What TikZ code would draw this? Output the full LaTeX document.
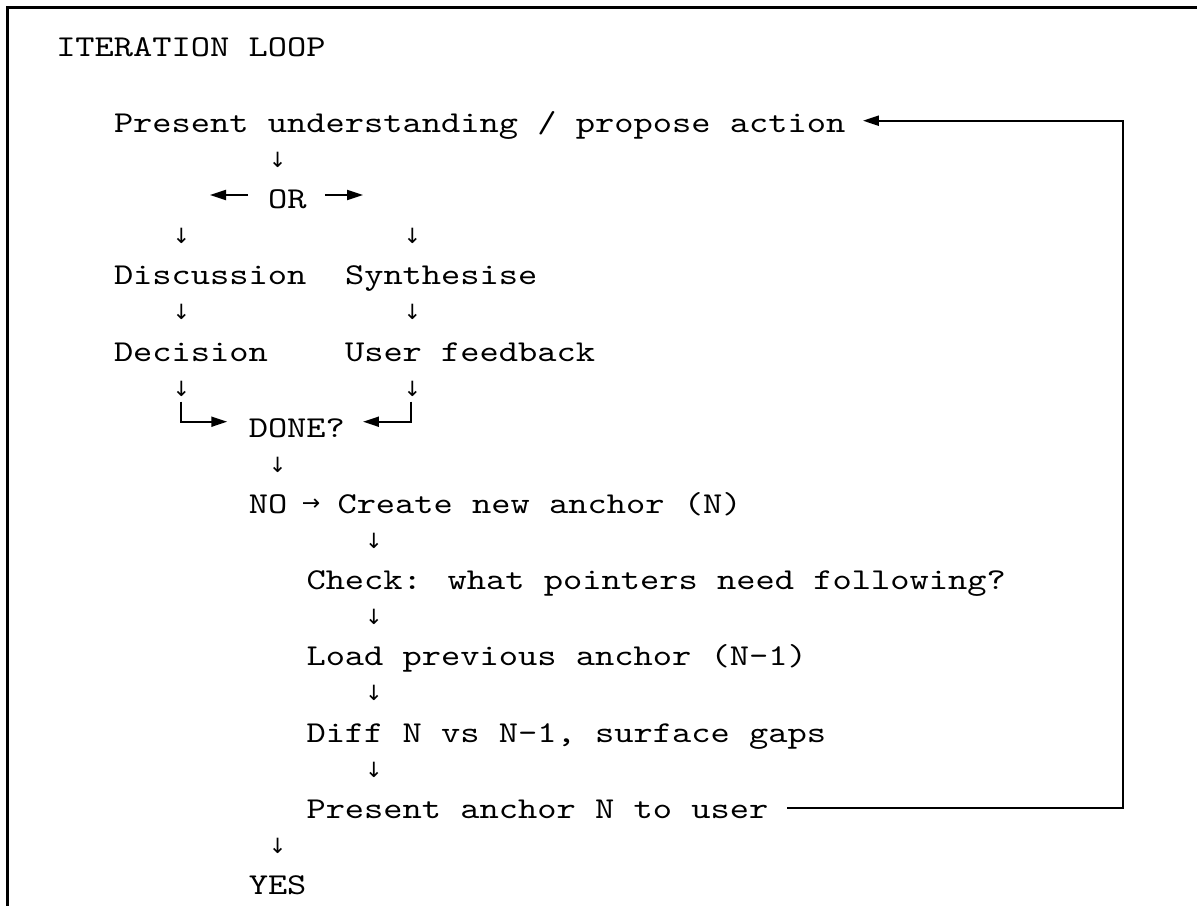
\documentclass[tikz,border=0pt]{standalone}
\usepackage{fontspec}
\usetikzlibrary{arrows.meta,calc}
\newfontfamily\codefont{lmmono10-regular.otf}[FakeStretch=1.21]
\newfontfamily\arrfont{DejaVu Sans}
\tikzset{
  lbl/.style={anchor=base west, inner sep=0pt, outer sep=0pt,
    font=\codefont\fontsize{30.3}{36}\selectfont, text=black},
  darrow/.style={anchor=center, inner sep=0pt, outer sep=0pt,
    font=\arrfont\fontsize{21}{24}\selectfont},
  rarrow/.style={anchor=center, inner sep=0pt, outer sep=0pt,
    font=\arrfont\fontsize{22}{24}\selectfont},
  conn/.style={line width=2pt, -{Triangle[length=16pt,width=10pt]}},
  frameline/.style={line width=2.7pt},
}
\newcommand\ctxt[4]{\node[lbl] (#1) at ({-1.5+19.25*#2},{56.2+38.1*(#3-1)}) {#4};}
\newcommand\dn[3]{\node[darrow] (#1) at ({-1.5+19.25*(#2+0.5)},{45.5+38.1*(#3-1)}) {↓};}
\begin{document}
\begin{tikzpicture}[x=1pt,y=-1pt]
\useasboundingbox (0,0) rectangle (1197,906);
% frame
\draw[frameline] (1197,7.4) -- (7.5,7.4) -- (7.5,906);
% texts
\ctxt{title}{3}{1}{ITERATION LOOP}
\ctxt{pu}{6}{3}{Present understanding / propose action}
\dn{d4}{14}{4}
\ctxt{or}{14}{5}{OR}
\dn{d6a}{9}{6}
\dn{d6b}{21}{6}
\ctxt{disc}{6}{7}{Discussion}
\ctxt{synth}{18}{7}{Synthesise}
\dn{d8a}{9}{8}
\dn{d8b}{21}{8}
\ctxt{dec}{6}{9}{Decision}
\ctxt{uf}{18}{9}{User feedback}
\dn{d10a}{9}{10}
\dn{d10b}{21}{10}
\ctxt{done}{13}{11}{DONE?}
\dn{d12}{14}{12}
\ctxt{no}{13}{13}{NO}
\node[rarrow] (noarr) at (311,505) {→};
\node[lbl] (create) at (337.5,{56.2+38.1*12}) {Create new anchor (N)};
\dn{d14}{19}{14}
\ctxt{check}{16}{15}{Check: what pointers need following?}
\dn{d16}{19}{16}
\ctxt{load}{16}{17}{Load previous anchor (N-1)}
\dn{d18}{19}{18}
\ctxt{diff}{16}{19}{Diff N vs N-1, surface gaps}
\dn{d20}{19}{20}
\ctxt{pN}{16}{21}{Present anchor N to user}
\dn{d22}{14}{22}
\ctxt{yes}{13}{23}{YES}
% OR arrows
\coordinate (y5) at (0,195);
\draw[conn] ($(or.west |- y5)+(-20,0)$) -- ($(or.west |- y5)+(-58,0)$);
\draw[conn] ($(or.east |- y5)+(18.5,0)$) -- ($(or.east |- y5)+(56.5,0)$);
% merge into DONE?
\coordinate (y11) at (0,421.7);
\coordinate (mL) at (181.4,401.7);
\coordinate (mR) at (411.3,401.7);
\draw[conn] (mL) |- ($(done.west |- y11)+(-21.5,0)$);
\draw[conn] (mR) |- ($(done.east |- y11)+(18,0)$);
% loop back
\coordinate (yt) at (1123,120.7);
\coordinate (yb) at (1123,807.5);
\draw[conn] ($(pN.east |- yb)+(19,0)$) -- (yb) -- (yt) -- ($(pu.east |- yt)+(17.5,0)$);
\end{tikzpicture}
\end{document}
